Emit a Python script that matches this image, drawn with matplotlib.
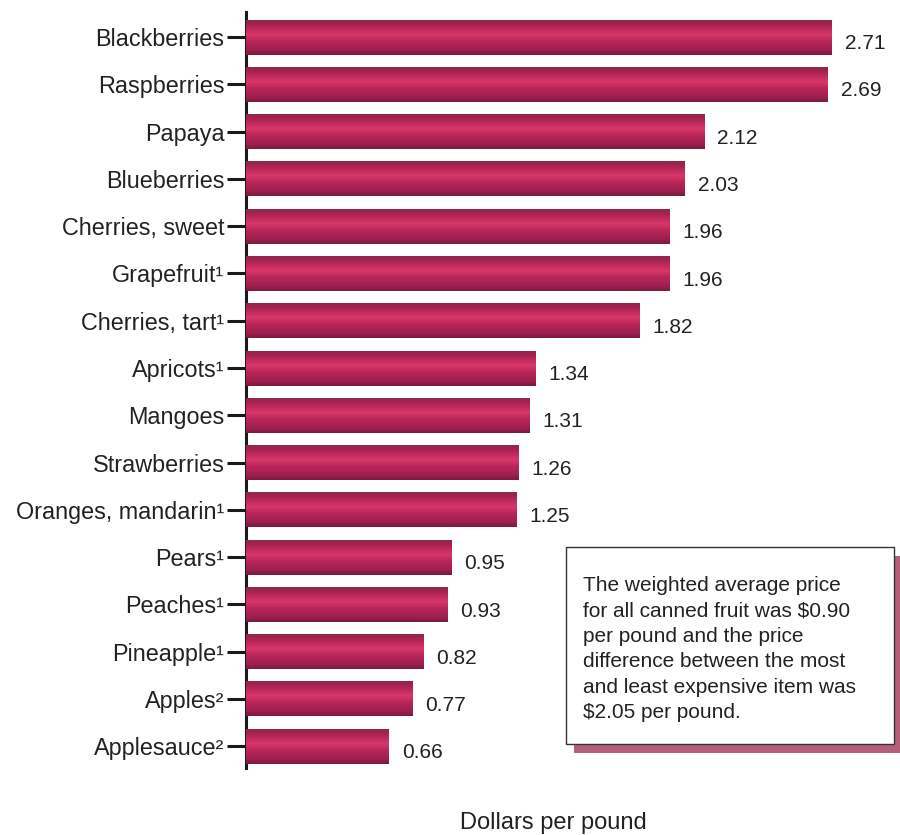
import numpy as np
import matplotlib
matplotlib.use("Agg")
import matplotlib.pyplot as plt
from matplotlib.patches import Rectangle
from matplotlib.colors import LinearSegmentedColormap

categories = ["Blackberries", "Raspberries", "Papaya", "Blueberries", "Cherries, sweet",
              "Grapefruit¹", "Cherries, tart¹", "Apricots¹", "Mangoes", "Strawberries",
              "Oranges, mandarin¹", "Pears¹", "Peaches¹", "Pineapple¹", "Apples²", "Applesauce²"]
values = [2.71, 2.69, 2.12, 2.03, 1.96, 1.96, 1.82, 1.34, 1.31, 1.26, 1.25, 0.95, 0.93, 0.82, 0.77, 0.66]
value_labels = ["2.71", "2.69", "2.12", "2.03", "1.96", "1.96", "1.82", "1.34", "1.31", "1.26",
                "1.25", "0.95", "0.93", "0.82", "0.77", "0.66"]
xlabel = "Dollars per pound"
note = ("The weighted average price\nfor all canned fruit was $0.90\nper pound and the price\n"
        "difference between the most\nand least expensive item was\n$2.05 per pound.")

plt.rcParams['font.family'] = ['Liberation Sans', 'DejaVu Sans']

W, H = 900, 835
fig = plt.figure(figsize=(9, 8.35), dpi=100)
ax = fig.add_axes([246 / W, 1 - 768 / H, (860 - 246) / W, (768 - 12) / H])

y = np.arange(len(categories))
bar_h = 0.74
bars = ax.barh(y, values, height=bar_h, color="#b02456", zorder=2)

grad = LinearSegmentedColormap.from_list("g", [
    (0.0, "#8a2a4c"), (0.1, "#a32150"), (0.25, "#c02a5c"), (0.42, "#d8386a"),
    (0.6, "#ba2659"), (0.85, "#a02050"), (1.0, "#7a1a40")])
g = np.linspace(0, 1, 64).reshape(-1, 1)
for b in bars:
    x0, y0, w, h = b.get_x(), b.get_y(), b.get_width(), b.get_height()
    ax.imshow(g, cmap=grad, aspect="auto", extent=(x0, x0 + w, y0 + h, y0),
              origin="upper", zorder=3, interpolation="bilinear")
    b.set_visible(False)

for yi, v, lab in zip(y, values, value_labels):
    ax.text(v + 0.06, yi + 0.14, lab, va="center", ha="left", fontsize=15, color="#222222")

ax.set_xlim(0, (860 - 246) / 216.2)
ax.set_ylim(15.46, -0.53)
ax.set_yticks(y)
ax.set_yticklabels(categories, fontsize=16.8, color="#222222")
ax.set_xticks([])
for s in ["top", "right", "bottom"]:
    ax.spines[s].set_visible(False)
ax.spines["left"].set_linewidth(2.2)
ax.spines["left"].set_color("#1a1a1a")
ax.tick_params(axis="y", length=14, width=2.2, color="#1a1a1a", pad=1.5)

fig.text(553 / W, 1 - 823 / H, xlabel, ha="center", va="center", fontsize=17, color="#222222")

# note box with shadow
bx0, by0, bx1, by1 = 566, 547, 894, 744
fig.patches.append(Rectangle(((bx0 + 8) / W, 1 - (by1 + 9) / H), (bx1 - bx0) / W, (by1 - by0) / H,
                             transform=fig.transFigure, facecolor="#b5607a", edgecolor="none", zorder=1))
fig.patches.append(Rectangle((bx0 / W, 1 - by1 / H), (bx1 - bx0) / W, (by1 - by0) / H,
                             transform=fig.transFigure, facecolor="white", edgecolor="#333333",
                             linewidth=1.0, zorder=2))
fig.text(583 / W, 1 - 576 / H, note, ha="left", va="top", fontsize=15, color="#222222",
         linespacing=1.43, zorder=3)

fig.savefig("out.png", dpi=100)
